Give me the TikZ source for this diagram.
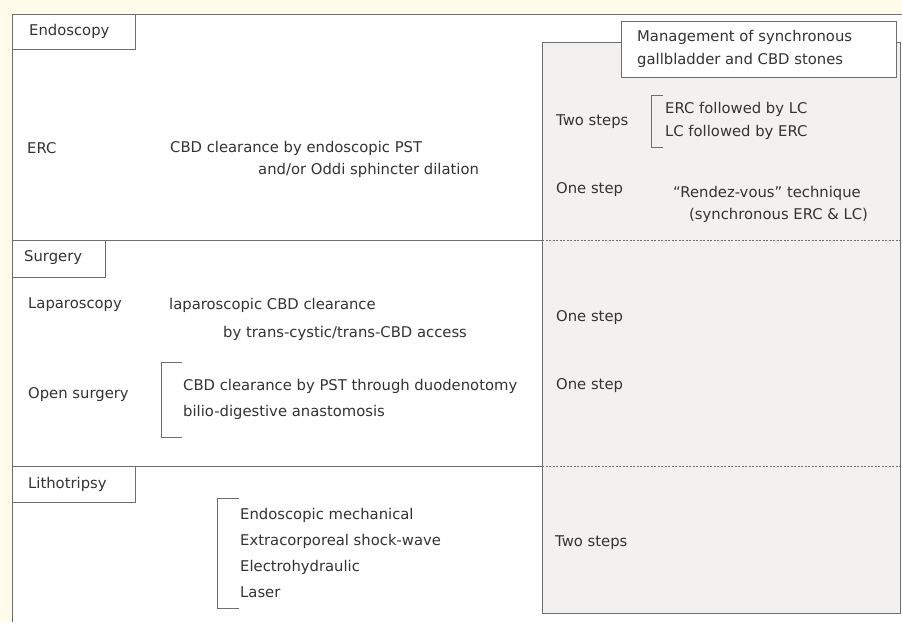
\documentclass[tikz,border=0pt]{standalone}
\usepackage{fontspec}
\setmainfont{DejaVu Sans}
\usetikzlibrary{positioning}

\definecolor{cream}{HTML}{FFFCEB}
\definecolor{panel}{HTML}{F2F1EF}
\definecolor{frame}{HTML}{6E6E6E}
\definecolor{ink}{HTML}{333333}

\tikzset{
  txt/.style={anchor=west,inner sep=0pt,text=ink,font=\fontsize{14.8}{17}\selectfont},
  tab/.style={draw=frame,line width=1pt,fill=white},
  brack/.style={draw=frame,line width=0.9pt},
}

\begin{document}
\begin{tikzpicture}[x=1pt,y=-1pt]
        \useasboundingbox (0,0) rectangle (902,622);
        \fill[cream] (0,0) rectangle (902,622);
        \fill[white] (12,14) rectangle (902,622);

        \coordinate (TL) at (12,14);
        \coordinate (TR) at (902,14);
        \coordinate (BL) at (12,622);

        \draw[frame,line width=1pt] (BL) -- (TL) -- (TR);

        % right panel
        \draw[frame,line width=1pt,fill=panel] (542,42) rectangle (900,613);

        \coordinate (S1) at (12,240);
        \coordinate (S1m) at (542,240);
        \coordinate (S1r) at (900,240);
        \coordinate (S2) at (12,466);
        \coordinate (S2m) at (542,466);
        \coordinate (S2r) at (900,466);

        \draw[frame,line width=1pt] (S1) -- (S1m);
        \draw[frame,line width=1pt] (S2) -- (S2m);
        \draw[frame,line width=1pt,dash pattern=on 2pt off 1.5pt] (S1m) -- (S1r);
        \draw[frame,line width=1pt,dash pattern=on 2pt off 1.5pt] (S2m) -- (S2r);

        % section tabs
        \draw[tab] (12,14) rectangle (135,49);
        \draw[tab] (12,240) rectangle (105,277);
        \draw[tab] (12,466) rectangle (135,502);
        \draw[tab] (621,21) rectangle (896,77);

        \node[txt] (endo)  at (29,31)  {Endoscopy};
        \node[txt] (surg)  at (24,258) {Surgery};
        \node[txt] (litho) at (28,484) {Lithotripsy};
        \node[txt] (mgmt1) at (637,37) {Management of synchronous};
        \node[txt] (mgmt2) at (637,60) {gallbladder and CBD stones};

        % endoscopy
        \node[txt] (erc)    at (27,148)  {ERC};
        \node[txt] (ercA)   at (170,148) {CBD clearance by endoscopic PST};
        \node[txt] (ercB)   at (258,170) {and/or Oddi sphincter dilation};
        \node[txt] (two1)   at (556,122) {Two steps};
        \node[txt] (ercLC)  at (665,109) {ERC followed by LC};
        \node[txt] (lcERC)  at (665,132) {LC followed by ERC};
        \node[txt] (one1)   at (556,190) {One step};
        \node[txt] (rdv)    at (673,193) {``Rendez-vous'' technique};
        \node[txt] (rdvB)   at (689,215) {(synchronous ERC \& LC)};

        \draw[brack] (663,95) -- (651,95) -- (651,147) -- (663,147);

        % surgery
        \node[txt] (lap)    at (28,305)  {Laparoscopy};
        \node[txt] (lapA)   at (169,305) {laparoscopic CBD clearance};
        \node[txt] (lapB)   at (223,333) {by trans-cystic/trans-CBD access};
        \node[txt] (one2)   at (556,318) {One step};
        \node[txt] (open)   at (28,395)  {Open surgery};
        \node[txt] (openA)  at (183,386) {CBD clearance by PST through duodenotomy};
        \node[txt] (openB)  at (183,412) {bilio-digestive anastomosis};
        \node[txt] (one3)   at (556,386) {One step};

        \draw[brack] (182,362) -- (161,362) -- (161,437) -- (182,437);

        % lithotripsy
        \node[txt] (mech)   at (240,515) {Endoscopic mechanical};
        \node[txt] (eswl)   at (240,541) {Extracorporeal shock-wave};
        \node[txt] (ehl)    at (240,567) {Electrohydraulic};
        \node[txt] (laser)  at (240,592) {Laser};
        \node[txt] (two2)   at (555,543) {Two steps};

        \draw[brack] (239,498) -- (217,498) -- (217,608) -- (239,608);
    \end{tikzpicture}
\end{document}
